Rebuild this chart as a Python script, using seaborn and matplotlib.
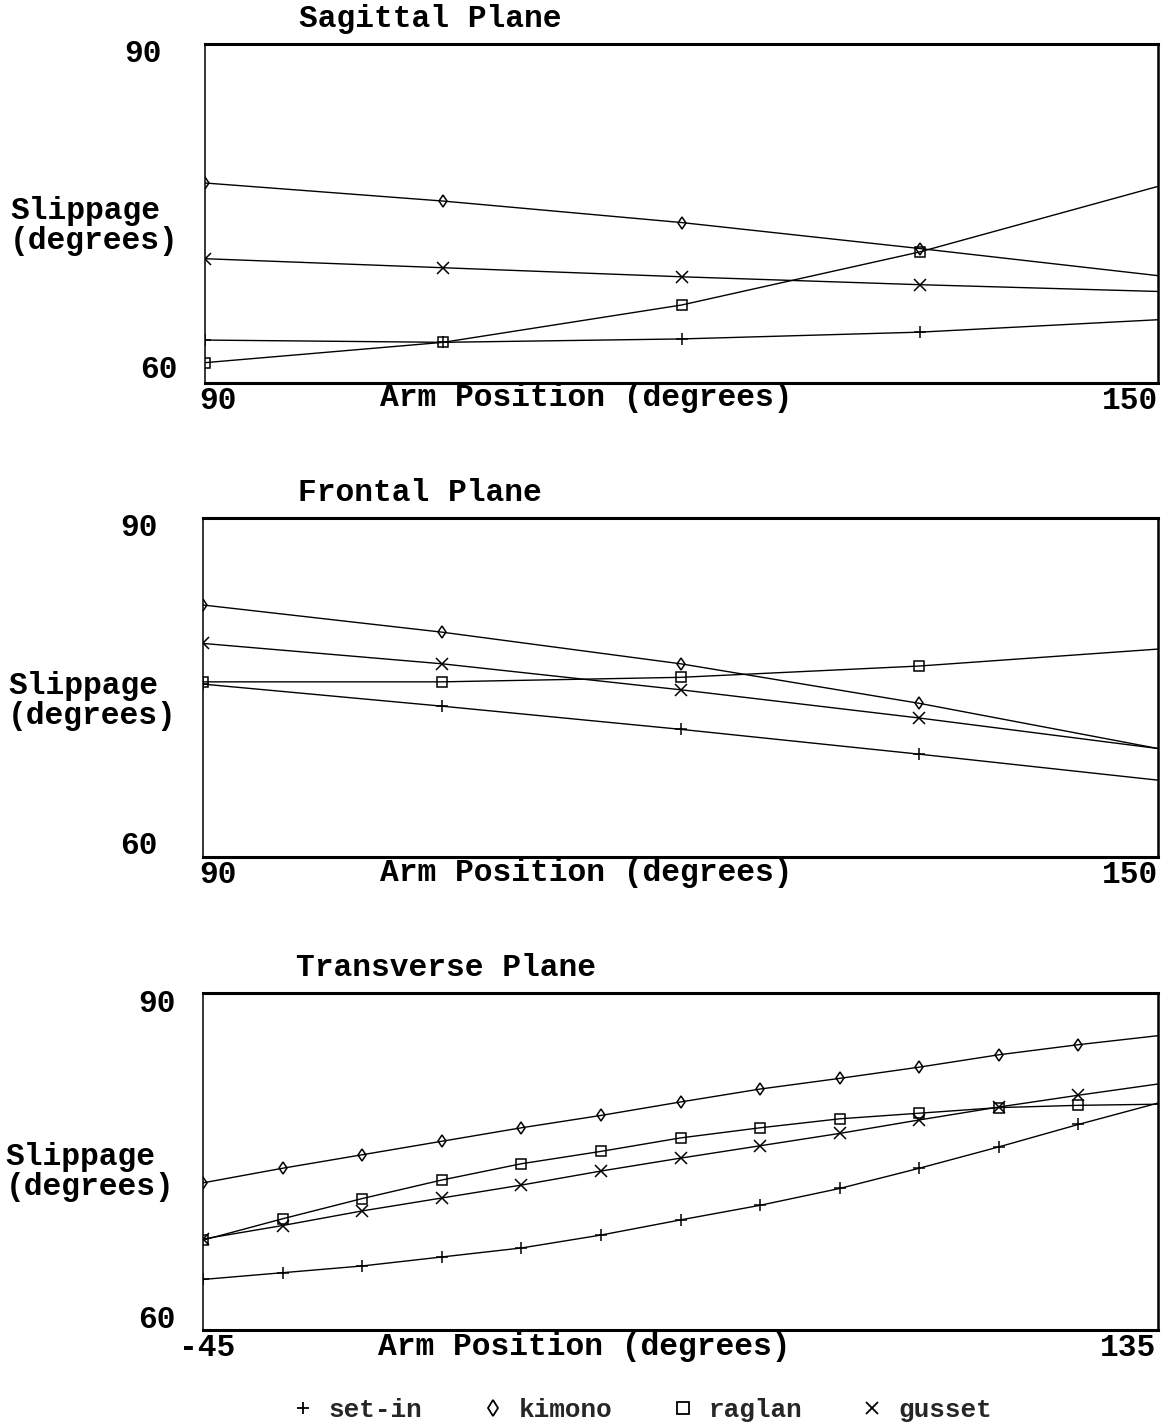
import numpy as np
import pandas as pd
import matplotlib
matplotlib.use("Agg")
import matplotlib.pyplot as plt
from matplotlib.lines import Line2D
from matplotlib.transforms import ScaledTranslation
import seaborn as sns

# ---------------- data ----------------
garments = ["set-in", "kimono", "raglan", "gusset"]
garment_markers = ["+", "d", "s", "x"]

sag_x = [90, 105, 120, 135, 150]
sag_setin = [63.8, 63.6, 63.9, 64.5, 65.6]
sag_kimono = [77.7, 76.1, 74.2, 71.9, 69.5]
sag_raglan = [61.8, 63.6, 66.9, 71.6, 77.4]
sag_gusset = [71.0, 70.2, 69.4, 68.7, 68.1]

fro_x = [90, 105, 120, 135, 150]
fro_setin = [75.3, 73.35, 71.3, 69.1, 66.8]
fro_kimono = [82.3, 79.9, 77.1, 73.6, 69.6]
fro_raglan = [75.5, 75.5, 75.9, 76.9, 78.4]
fro_gusset = [78.9, 77.1, 74.8, 72.3, 69.6]

tra_x = [-45, -30, -15, 0, 15, 30, 45, 60, 75, 90, 105, 120, 135]
tra_setin = [64.5, 65.1, 65.7, 66.5, 67.3, 68.45, 69.8, 71.1, 72.6, 74.4, 76.3, 78.3, 80.2]
tra_kimono = [73.1, 74.4, 75.6, 76.8, 78.0, 79.1, 80.3, 81.45, 82.4, 83.4, 84.5, 85.4, 86.2]
tra_raglan = [68.0, 69.9, 71.7, 73.35, 74.8, 75.9, 77.1, 78.0, 78.8, 79.3, 79.8, 80.0, 80.1]
tra_gusset = [68.1, 69.3, 70.6, 71.75, 72.9, 74.15, 75.3, 76.4, 77.5, 78.7, 79.85, 80.9, 81.9]

titles = ["Sagittal Plane", "Frontal Plane", "Transverse Plane"]
xlabel = "Arm Position (degrees)"
ylabel = "Slippage\n(degrees)"
y_ticks = [60, 90]
y_ticklabels = ["60", "90"]
sag_xticks, sag_xticklabels = [90, 150], ["90", "150"]
fro_xticks, fro_xticklabels = [90, 150], ["90", "150"]
tra_xticks, tra_xticklabels = [-45, 135], ["-45", "135"]

# ---------------- style ----------------
sns.set_style("white")
FONT = ["Liberation Mono", "DejaVu Sans Mono"]
plt.rcParams["font.family"] = FONT
plt.rcParams["font.weight"] = "bold"
FS = 22.5
LEG_FS = 18.7

W, H = 1172, 1426
fig = plt.figure(figsize=(W / 100, H / 100), dpi=100)


def frac_box(left, top, right, bottom):
    return [left / W, 1 - bottom / H, (right - left) / W, (bottom - top) / H]


panels = [
    dict(box=frac_box(205, 44, 1158, 383), x=sag_x,
         ys=[sag_setin, sag_kimono, sag_raglan, sag_gusset],
         xticks=sag_xticks, xtl=sag_xticklabels,
         title_x=0.236, ylab=(-0.2046, 0.463), xlab=(0.400, -0.044),
         ypad=31, ylab_off={"60": (0.16, 0.17), "90": (0.0, -0.06)},
         xlab_off=[(0.13, 0.0), (-0.28, 0.0)]),
    dict(box=frac_box(203, 518, 1158, 857), x=fro_x,
         ys=[fro_setin, fro_kimono, fro_raglan, fro_gusset],
         xticks=fro_xticks, xtl=fro_xticklabels,
         title_x=0.227, ylab=(-0.204, 0.46), xlab=(0.401, -0.047),
         ypad=32.4, ylab_off={"60": (0.0, 0.15), "90": (0.0, -0.07)},
         xlab_off=[(0.15, 0.0), (-0.28, 0.0)]),
    dict(box=frac_box(203, 993, 1158, 1330), x=tra_x,
         ys=[tra_setin, tra_kimono, tra_raglan, tra_gusset],
         xticks=tra_xticks, xtl=tra_xticklabels,
         title_x=0.254, ylab=(-0.207, 0.469), xlab=(0.399, -0.050),
         ypad=19.4, ylab_off={"60": (0.0, 0.14), "90": (0.0, -0.07)},
         xlab_off=[(0.04, 0.0), (-0.30, 0.0)]),
]

for p, title in zip(panels, titles):
    ax = fig.add_axes(p["box"])
    x = p["x"]
    n = len(x)
    for g, m, y in zip(garments, garment_markers, p["ys"]):
        df = pd.DataFrame({"arm": x, "slip": y})
        sns.lineplot(data=df, x="arm", y="slip", ax=ax, color="black",
                     linewidth=1.0, marker=m, markersize=8 if m in "+x" else 6.5,
                     markerfacecolor="none", markeredgecolor="black",
                     markeredgewidth=1.1, markevery=list(range(n - 1)),
                     errorbar=None)
    ax.set_xlim(x[0], x[-1])
    ax.set_ylim(60, 90)

    # spines
    for side, lw in [("top", 2.2), ("bottom", 2.2), ("left", 1.1), ("right", 1.8)]:
        ax.spines[side].set_visible(True)
        ax.spines[side].set_linewidth(lw)
        ax.spines[side].set_color("black")

    ax.set_xticks(p["xticks"], labels=p["xtl"])
    ax.set_yticks(y_ticks, labels=y_ticklabels)
    ax.tick_params(axis="both", length=0, labelsize=FS, colors="black")
    ax.tick_params(axis="y", pad=p["ypad"])
    ax.tick_params(axis="x", pad=2)

    ax.set_title(title, x=p["title_x"], y=1.074, va="center", pad=0,
                 fontsize=FS, color="black", fontweight="bold")
    ax.set_xlabel(xlabel, fontsize=FS, color="black", fontweight="bold")
    ax.xaxis.set_label_coords(*p["xlab"])
    ax.xaxis.label.set_va("center")
    ax.set_ylabel(ylabel, fontsize=FS, rotation=0, ha="left", va="center",
                  multialignment="left", linespacing=1.0, color="black",
                  fontweight="bold")
    ax.yaxis.set_label_coords(*p["ylab"])

    # fine offsets of tick labels
    for lab in ax.get_yticklabels():
        dx, dy = p["ylab_off"][lab.get_text()]
        lab.set_transform(lab.get_transform() +
                          ScaledTranslation(dx, dy, fig.dpi_scale_trans))
    for lab, (dx, dy) in zip(ax.get_xticklabels(), p["xlab_off"]):
        lab.set_transform(lab.get_transform() +
                          ScaledTranslation(dx, dy, fig.dpi_scale_trans))

# legend
handles = [Line2D([], [], linestyle="None", marker=m, color="black",
                  markerfacecolor="none", markeredgewidth=1.3,
                  markersize=9 if m in "+x" else 8)
           for m in garment_markers]
fig.legend(handles, garments, loc="center", bbox_to_anchor=(0.547, 0.011),
           ncol=4, frameon=False, fontsize=LEG_FS, handlelength=1.0,
           handletextpad=0.5, columnspacing=2.2)

fig.savefig("out.png", dpi=100)
